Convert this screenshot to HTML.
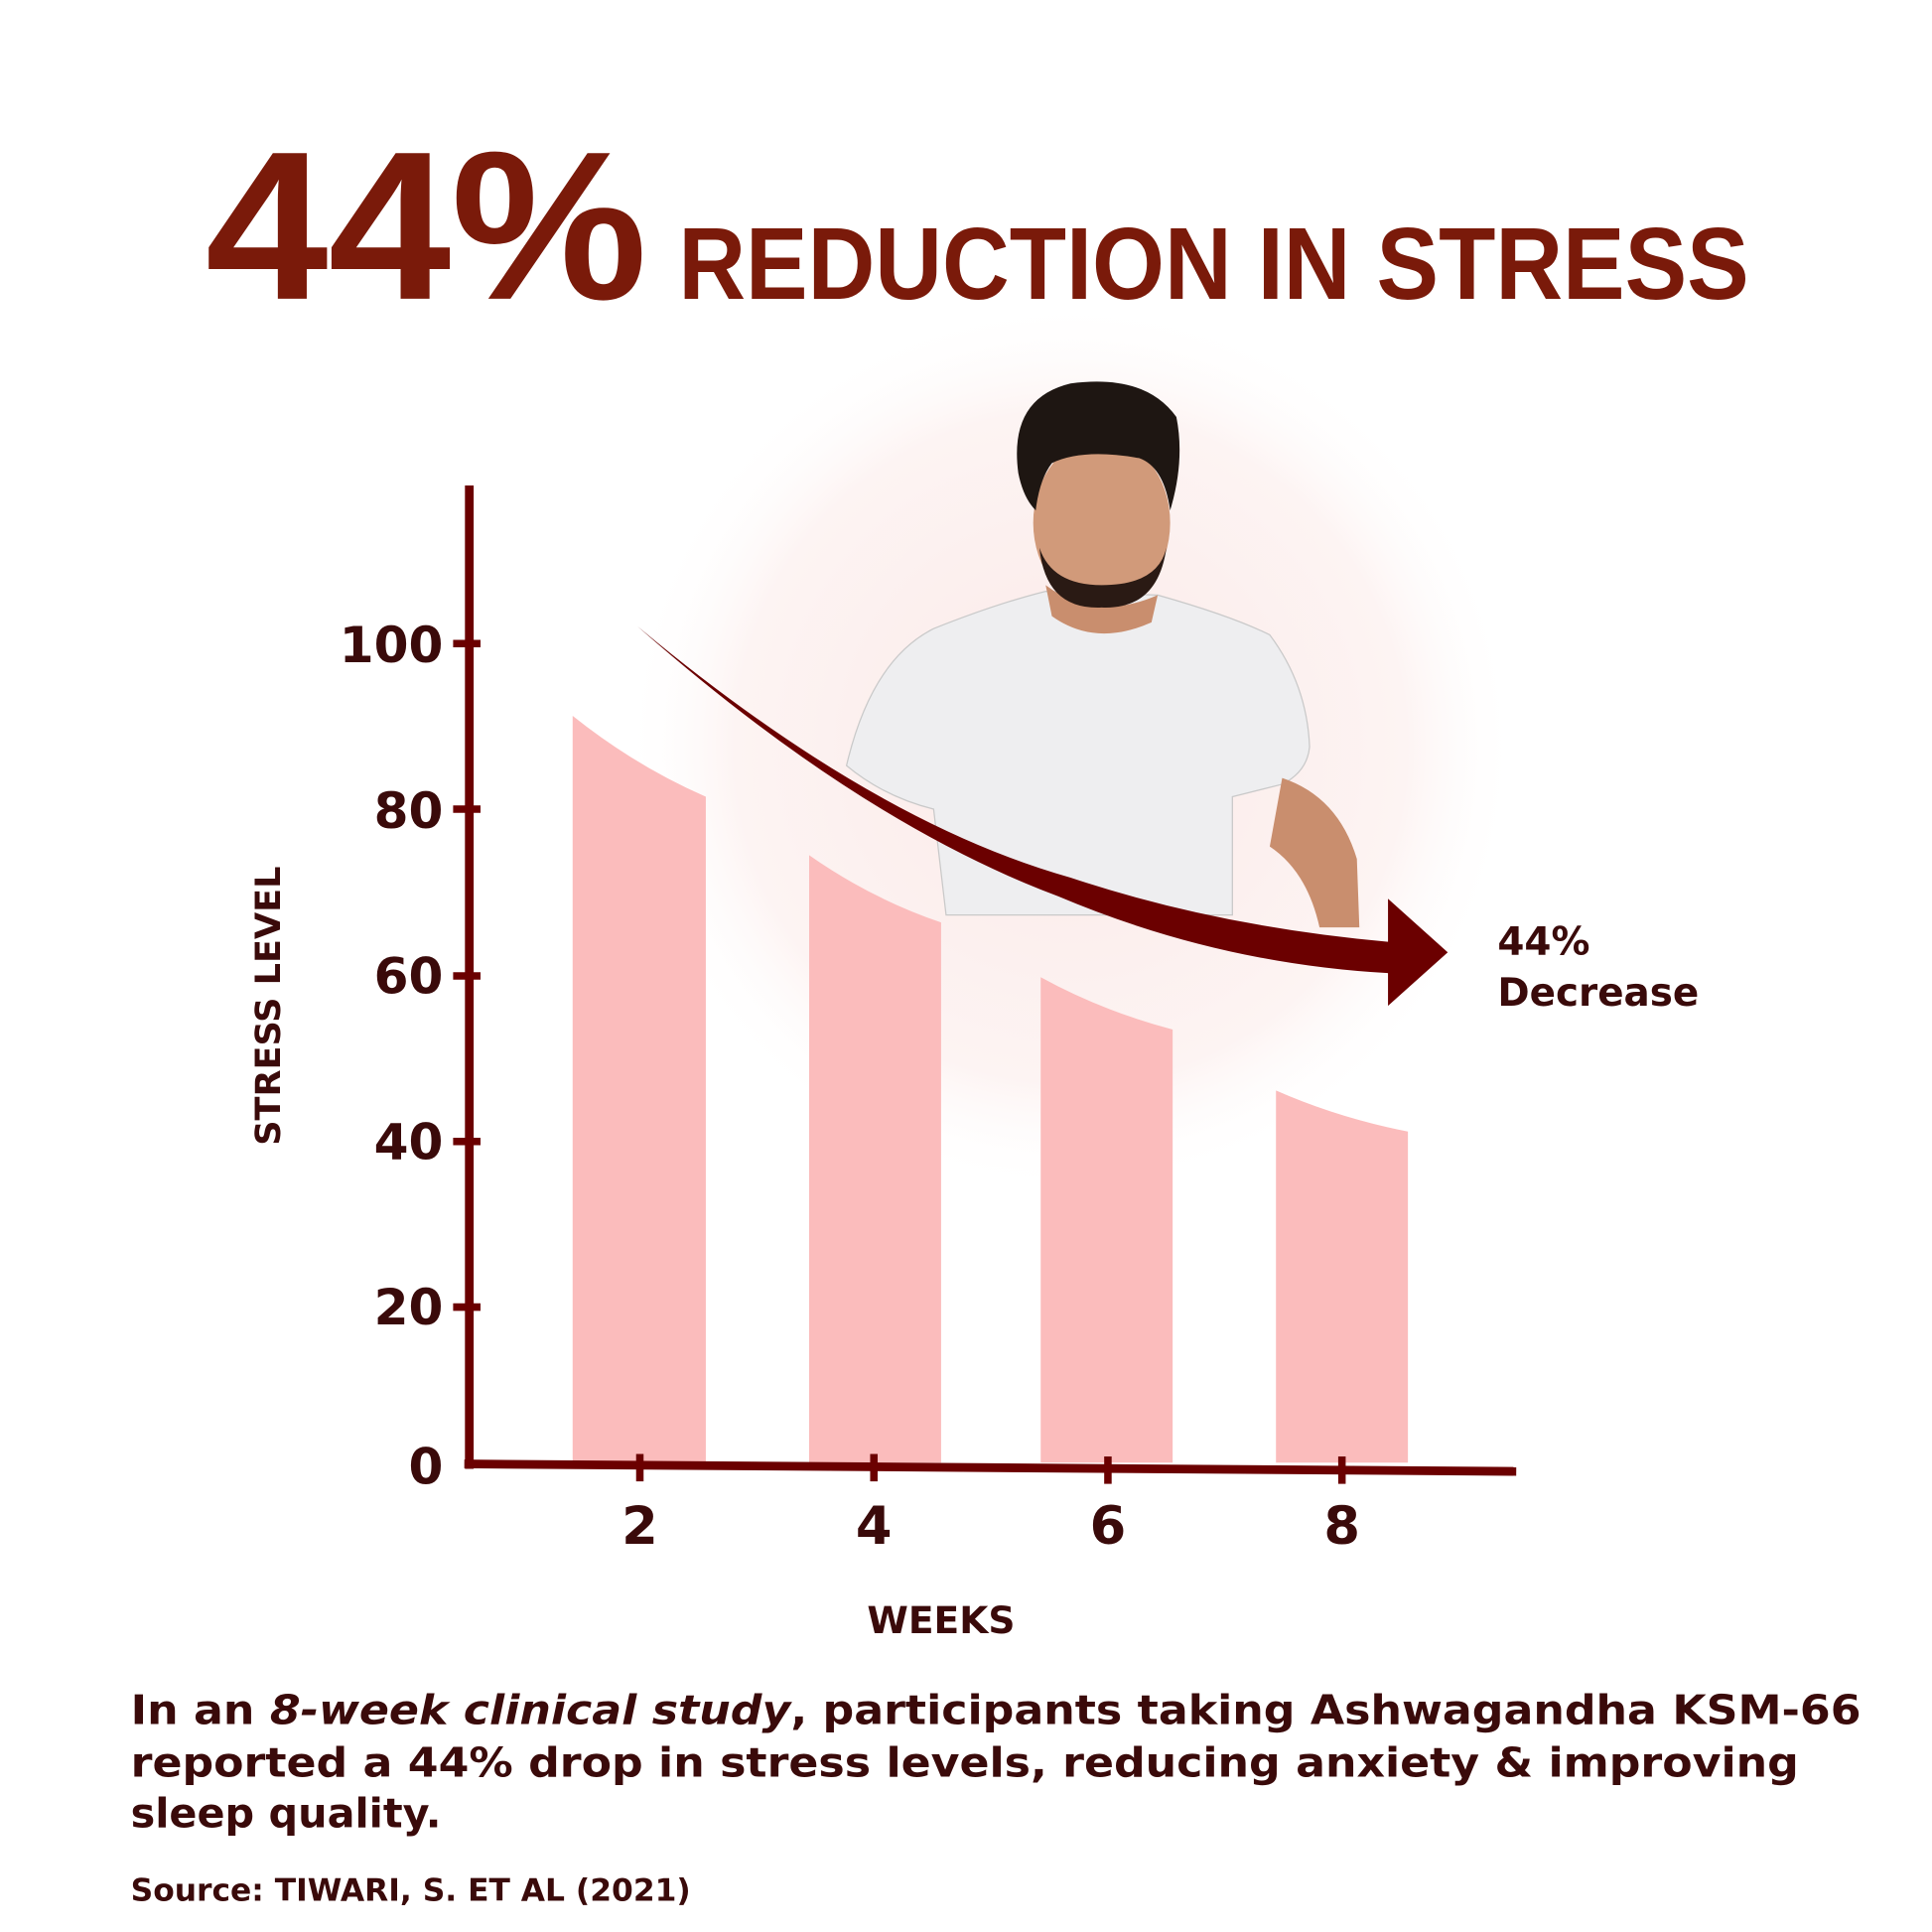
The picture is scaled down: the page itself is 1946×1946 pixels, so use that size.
<!DOCTYPE html>
<html><head><meta charset="utf-8"><style>
html,body{margin:0;padding:0;background:#fff}
svg{display:block}
</style></head><body>
<svg width="1946" height="1946" viewBox="0 0 1552 1552" xmlns="http://www.w3.org/2000/svg" font-family="'DejaVu Sans','Liberation Sans',sans-serif">
<defs>
<radialGradient id="bg" cx="0.5" cy="0.5" r="0.5">
<stop offset="0" stop-color="#fbe9e7"/><stop offset="0.75" stop-color="#fdf4f3"/><stop offset="1" stop-color="#ffffff" stop-opacity="0"/>
</radialGradient>
</defs>
<rect width="1552" height="1552" fill="#fff"/>
<text x="165" y="240" font-size="170" font-weight="bold" fill="#7a1a0a" font-family="'Liberation Sans',sans-serif" textLength="355" lengthAdjust="spacingAndGlyphs">44%</text>
<text x="545" y="240" font-size="82" font-weight="bold" fill="#7a1a0a" font-family="'Liberation Sans',sans-serif" textLength="860" lengthAdjust="spacingAndGlyphs">REDUCTION IN STRESS</text>
<circle cx="860" cy="600" r="360" fill="url(#bg)"/>
<!-- person -->
<path d="M680 615 Q700 530 750 505 Q800 485 840 475 L930 478 Q990 495 1020 510 Q1050 550 1052 600 Q1050 620 1030 630 L990 640 L990 735 L760 735 L750 650 Q710 640 680 615Z" fill="#eeeef0" stroke="#c9c9c9" stroke-width="1"/>
<path d="M1030 625 Q1075 640 1090 690 L1092 745 L1060 745 Q1050 700 1020 680Z" fill="#c98e6e"/>
<path d="M840 470 Q880 500 930 478 L925 500 Q880 520 845 495Z" fill="#c98e6e"/>
<ellipse cx="885" cy="420" rx="55" ry="68" fill="#d19a7a"/>
<path d="M835 440 Q840 490 885 488 Q930 490 937 440 Q930 470 885 470 Q845 470 835 440Z" fill="#2a1a14"/>
<path d="M818 380 Q810 320 860 308 Q920 300 945 335 Q952 370 940 410 Q935 375 915 368 Q870 360 845 372 Q835 385 832 410 Q822 400 818 380Z" fill="#1e1612"/>
<!-- bars -->
<path d="M460 1175 L460 575 Q510 615 567 640 L567 1175Z" fill="#fbbcbc"/>
<path d="M650 1175 L650 687 Q700 722 756 741 L756 1175Z" fill="#fbbcbc"/>
<path d="M836 1175 L836 785 Q885 812 942 827 L942 1175Z" fill="#fbbcbc"/>
<path d="M1025 1175 L1025 876 Q1075 898 1131 909 L1131 1175Z" fill="#fbbcbc"/>
<!-- arrow -->
<path d="M512 503 Q700 660 860 705 Q980 745 1120 757 L1120 782 Q980 775 850 720 Q690 660 512 503Z" fill="#6b0000"/>
<path d="M1115 722 L1163 765 L1115 808 Z" fill="#6b0000"/>
<text x="1203" y="767" font-size="31" font-weight="bold" fill="#3a0a0a">44%</text>
<text x="1203" y="808" font-size="31" font-weight="bold" fill="#3a0a0a">Decrease</text>
<!-- axes -->
<line x1="377" y1="390" x2="377" y2="1180" stroke="#6b0000" stroke-width="7"/>
<line x1="373" y1="1176" x2="1218" y2="1182" stroke="#6b0000" stroke-width="7"/>
<g stroke="#6b0000" stroke-width="6">
<line x1="364" y1="517" x2="386" y2="517"/><line x1="364" y1="650" x2="386" y2="650"/>
<line x1="364" y1="784" x2="386" y2="784"/><line x1="364" y1="917" x2="386" y2="917"/>
<line x1="364" y1="1050" x2="386" y2="1050"/>
<line x1="514" y1="1168" x2="514" y2="1190"/><line x1="702" y1="1168" x2="702" y2="1190"/>
<line x1="890" y1="1170" x2="890" y2="1192"/><line x1="1078" y1="1170" x2="1078" y2="1192"/>
</g>
<g font-size="40" font-weight="bold" fill="#3a0a0a" text-anchor="end">
<text x="356" y="532">100</text><text x="356" y="665">80</text><text x="356" y="798">60</text>
<text x="356" y="931">40</text><text x="356" y="1064">20</text><text x="356" y="1192">0</text>
</g>
<g font-size="42" font-weight="bold" fill="#3a0a0a" text-anchor="middle">
<text x="514" y="1240">2</text><text x="702" y="1240">4</text><text x="890" y="1240">6</text><text x="1078" y="1240">8</text>
</g>
<text transform="translate(225,808) rotate(-90)" text-anchor="middle" font-size="28" font-weight="bold" fill="#3a0a0a">STRESS LEVEL</text>
<text x="756" y="1312" text-anchor="middle" font-size="30" font-weight="bold" fill="#3a0a0a">WEEKS</text>
<g font-size="33" font-weight="bold" fill="#3a0a0a">
<text x="105" y="1385" textLength="1390" lengthAdjust="spacingAndGlyphs">In an <tspan font-style="italic">8-week clinical study</tspan>, participants taking Ashwagandha KSM-66</text>
<text x="105" y="1427" textLength="1340" lengthAdjust="spacingAndGlyphs">reported a 44% drop in stress levels, reducing anxiety &amp; improving</text>
<text x="105" y="1468">sleep quality.</text>
</g>
<text x="105" y="1527" font-size="25" font-weight="bold" fill="#3a0a0a">Source: TIWARI, S. ET AL (2021)</text>
</svg>
</body></html>
